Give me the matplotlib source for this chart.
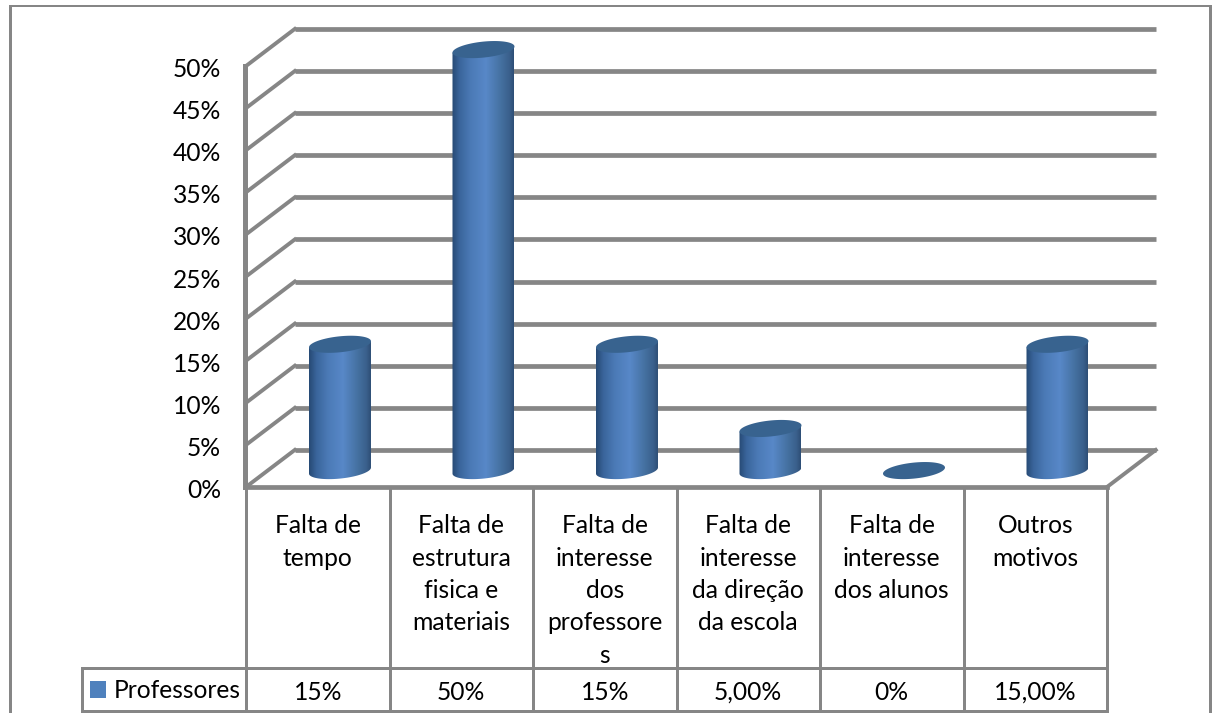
import numpy as np
import matplotlib
matplotlib.use('Agg')
import matplotlib.pyplot as plt
from matplotlib.colors import LinearSegmentedColormap
from matplotlib.lines import Line2D
from matplotlib.patches import Polygon
from matplotlib.transforms import ScaledTranslation

categories = ['Falta de\ntempo', 'Falta de\nestrutura\nfisica e\nmateriais',
              'Falta de\ninteresse\ndos\nprofessore\ns', 'Falta de\ninteresse\nda direção\nda escola',
              'Falta de\ninteresse\ndos alunos', 'Outros\nmotivos']
values = [15, 50, 15, 5, 0, 15]
table_labels = ['15%', '50%', '15%', '5,00%', '0%', '15,00%']
y_ticks = [0, 5, 10, 15, 20, 25, 30, 35, 40, 45, 50]
series_name = 'Professores'

W, H = 1212, 713
GREY = '#868686'
plt.rcParams['font.family'] = ['Lato', 'DejaVu Sans']
FONT = 17.7


def fx(x):
    return x / W


def fy(y):
    return 1 - y / H


def fig_line(x0, y0, x1, y1, px=3):
    fig.add_artist(Line2D([fx(x0), fx(x1)], [fy(y0), fy(y1)], color=GREY, lw=px * 0.72,
                          solid_capstyle='projecting'))


fig = plt.figure(figsize=(W / 100, H / 100), dpi=100, facecolor='white')

# plot area, front plane of the 3D box
left, right, zero_y, top_y = 246, 1107, 487, 66
ax = fig.add_axes([fx(left), fy(zero_y), fx(right - left), (zero_y - top_y) / H])
ax.set_xlim(0, len(values))
ax.set_ylim(0, 50)
ax.patch.set_alpha(0)
for s in ax.spines.values():
    s.set_visible(False)

ax.set_xticks([])
ax.set_yticks(y_ticks)
ax.set_yticklabels([f'{v}%' for v in y_ticks], fontsize=FONT, color='black')
ax.tick_params(axis='y', length=0, pad=18)
nudge = ScaledTranslation(0, -1.5 / 100, fig.dpi_scale_trans)
for lab in ax.get_yticklabels():
    lab.set_transform(lab.get_transform() + nudge)

# depth of the box in data units
depth_x = 0.34
depth_y = 4.4

# back wall lines and the diagonals going to the front plane
for v in y_ticks:
    ax.plot([depth_x, len(values) + depth_x], [v + depth_y, v + depth_y], color=GREY, lw=3.4,
            clip_on=False, solid_capstyle='butt', zorder=1)
    ax.plot([0, depth_x], [v, v + depth_y], color=GREY, lw=2.8, clip_on=False, zorder=1)
ax.plot([len(values), len(values) + depth_x], [0, depth_y], color=GREY, lw=2.8, clip_on=False, zorder=1)
ax.plot([0, len(values)], [0, 0], color=GREY, lw=3.4, clip_on=False, zorder=2)

# cylinders
cyl_cmap = LinearSegmentedColormap.from_list('cyl', [(0, '#274a75'), (0.12, '#3a659b'), (0.3, '#4b7ab6'),
                                                     (0.55, '#5888c8'), (0.8, '#44709f'),
                                                     (0.93, '#3a608c'), (1, '#2e4e76')])
shade = np.linspace(0, 1, 128).reshape(1, -1)
half_w = 0.216
cap_b = 0.95
tilt = 0.36
base = 1.95
t = np.linspace(0, 2 * np.pi, 120)
for i, v in enumerate(values):
    cx = i + 0.5 + 0.155
    ex = cx + half_w * np.cos(t)
    ey = cap_b * np.sin(t) + tilt * np.cos(t)
    if v > 0:
        low = t[(t >= np.pi)]
        xs = np.concatenate([[cx - half_w], cx + half_w * np.cos(low), [cx + half_w]])
        ys = np.concatenate([[base + v - tilt], base + cap_b * np.sin(low) + tilt * np.cos(low),
                             [base + v + tilt]])
        outline = Polygon(np.column_stack([xs, ys]), transform=ax.transData, fc='none', ec='none')
        ax.add_patch(outline)
        outline.set_clip_on(False)
        im = ax.imshow(shade, cmap=cyl_cmap, aspect='auto', zorder=3,
                       extent=[cx - half_w, cx + half_w, base - cap_b - 0.5, base + v + tilt])
        im.set_clip_box(fig.bbox)
        im.set_clip_path(outline)
    ax.fill(ex, base + v + ey, color='#38638f', lw=0, zorder=4, clip_on=False)

ax.set_xlim(0, len(values))
ax.set_ylim(0, 50)

# value axis of the front plane
fig_line(244.5, top_y, 244.5, zero_y, px=5)

# data table below the plot
col_w = (right - left) / len(values)
table_mid, table_bottom = 668, 711
for i in range(len(values) + 1):
    x = left + i * col_w
    fig_line(x, zero_y, x, table_bottom)
fig_line(82, table_mid, right, table_mid)
fig_line(82, table_bottom, right, table_bottom)
fig_line(82, table_mid, 82, table_bottom)

for i, (cat, lab) in enumerate(zip(categories, table_labels)):
    x = left + (i + 0.5) * col_w
    fig.text(fx(x), fy(514), cat, ha='center', va='top', fontsize=FONT, linespacing=1.5)
    fig.text(fx(x), fy(692), lab, ha='center', va='center', fontsize=FONT)

# legend key in the first table row
fig.patches.append(plt.Rectangle((fx(90), fy(698)), 16 / W, 17 / H, transform=fig.transFigure,
                                 fc='#4f81bd', ec='none', figure=fig))
fig.text(fx(114), fy(690), series_name, ha='left', va='center', fontsize=FONT)

# outer chart frame
fig_line(10, 6, 1210, 6, px=2)
fig_line(10, 6, 10, H, px=3)
fig_line(1210, 6, 1210, H, px=3)

fig.savefig('out.png', dpi=100)
